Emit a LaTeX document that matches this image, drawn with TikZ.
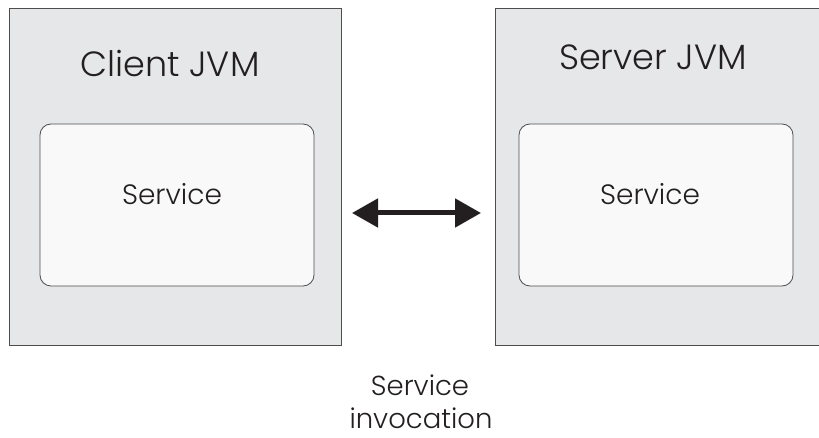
\documentclass[tikz,border=0pt]{standalone}
\usepackage{fontspec}
\setmainfont{Poppins}[UprightFont={* Light}]
\usetikzlibrary{arrows.meta}
\definecolor{outerfill}{HTML}{E6E7E8}
\definecolor{innerfill}{HTML}{F9F9F9}
\definecolor{edge}{HTML}{4D4D4D}
\definecolor{txt}{HTML}{231F20}
\begin{document}
\begin{tikzpicture}[x=1pt,y=-1pt,
  jvm/.style={draw=edge,line width=0.8pt,fill=outerfill,minimum width=#1,minimum height=337pt,inner sep=0pt},
  svc/.style={draw=edge,line width=0.8pt,fill=innerfill,rounded corners=11pt,minimum width=274pt,minimum height=162pt,inner sep=0pt},
  big/.style={text=txt,font=\fontsize{35}{40}\selectfont,anchor=base,inner sep=0pt},
  small/.style={text=txt,font=\fontsize{28}{32}\selectfont,anchor=base,inner sep=0pt},
  note/.style={text=txt,font=\fontsize{27.5}{32}\selectfont,anchor=base,inner sep=0pt},
  dbl/.style={line width=5pt,draw=txt,{Triangle[length=26pt,width=28pt]}-{Triangle[length=26pt,width=28pt]}}]
\useasboundingbox (0,0) rectangle (819,438);
\node[jvm=332pt] (client) at (175,176.5) {};
\node[jvm=324pt] (server) at (657,176.5) {};
\node[svc] (csvc) at (177,205) {};
\node[svc] (ssvc) at (656,205) {};
\node[big] (clab) at (170,77) {Client JVM};
\node[big] (slab) at (653,70) {Server JVM};
\node[small] (cst) at (172,205) {Service};
\node[small] (sst) at (650,205) {Service};
\coordinate (a1) at (352,213);
\coordinate (a2) at (481,213);
\draw[dbl] (a1) -- (a2);
\node[note] (inv1) at (420,395) {Service};
\node[note] (inv2) at (421,428) {invocation};
\end{tikzpicture}
\end{document}
